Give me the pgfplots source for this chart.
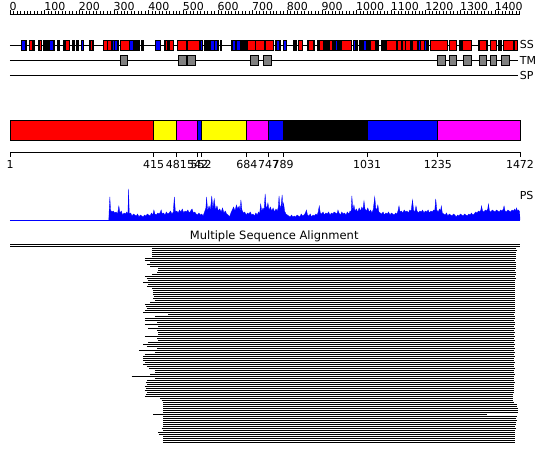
\documentclass[border=0pt]{standalone}
\usepackage{fontspec}
\setmainfont{DejaVu Sans}
\usepackage{pgfplots}
\pgfplotsset{compat=1.18}
\definecolor{cRed}{RGB}{255,0,0}
\definecolor{cBlue}{RGB}{0,0,255}
\definecolor{cYel}{RGB}{255,255,0}
\definecolor{cMag}{RGB}{255,0,255}
\definecolor{cGray}{RGB}{128,128,128}
\pgfkeys{/pgf/number format/1000 sep={}, /pgf/number format/assume math mode=true}
\newcommand{\lab}{\fontsize{11}{13}\selectfont}
\newcommand{\dombox}[3]{\addplot[draw=black, line width=0.8pt, fill=#1] coordinates {(#2,-140)(#3,-140)(#3,-120)(#2,-120)} --cycle;}
\newcommand{\ssbox}[3]{\addplot[draw=black, line width=0.8pt, fill=#1] coordinates {(#2,-50.5)(#3,-50.5)(#3,-40.5)(#2,-40.5)} --cycle;}
\newcommand{\ssstripe}[3]{\addplot[draw=none, fill=#1] coordinates {(#2,-50.1)(#3,-50.1)(#3,-40.9)(#2,-40.9)} --cycle;}
\newcommand{\tmbox}[2]{\addplot[draw=black, line width=0.8pt, fill=cGray] coordinates {(#1,-65)(#2,-65)(#2,-55.5)(#1,-55.5)} --cycle;}
\begin{document}
\begin{tikzpicture}
% ---------------- ruler
\begin{axis}[at={(10pt,-14pt)}, anchor=north west, scale only axis, width=510pt, height=1pt,
  xmin=0, xmax=1472, ymin=0, ymax=1, axis x line=top, axis y line=none,
  axis line style={-, line width=0.8pt},
  xtick={0,100,...,1400}, minor xtick={0,10,...,1470},
  tick align=outside, major tick length=3.5pt, minor tick length=3pt,
  tick style={black, line width=0.6pt},
  tick label style={font=\lab},
  xticklabel style={anchor=south west, inner sep=0pt, xshift=-0.5pt},
  clip=false]
\addplot[draw=none] coordinates {(0,0)(1472,1)};
\end{axis}
% ---------------- SS / TM / SP tracks
\begin{axis}[at={(10pt,-80pt)}, anchor=south west, scale only axis, width=510pt, height=44pt,
  xmin=1, xmax=1472, ymin=-80, ymax=-36, hide axis, clip=false]
\addplot[black, line width=0.8pt] coordinates {(1,-45)(1466,-45)};
\addplot[black, line width=0.8pt] coordinates {(1,-60)(1466,-60)};
\addplot[black, line width=0.8pt] coordinates {(1,-75)(1466,-75)};
% black segments
\ssbox{black}{33}{47}\ssbox{black}{56}{70}\ssbox{black}{84}{92}\ssbox{black}{98}{108}
\ssbox{black}{113}{128}\ssbox{black}{139}{144}\ssbox{black}{154}{173}\ssbox{black}{180}{186}
\ssbox{black}{192}{198}\ssbox{black}{206}{214}\ssbox{black}{229}{242}\ssbox{black}{269}{315}
\ssbox{black}{344}{366}\ssbox{black}{369}{375}\ssbox{black}{381}{387}\ssbox{black}{447}{457}
\ssbox{black}{547}{557}\ssbox{black}{563}{569}\ssbox{black}{573}{603}\ssbox{black}{607}{612}
\ssbox{black}{639}{684}\ssbox{black}{766}{782}\ssbox{black}{818}{826}\ssbox{black}{859}{878}
\ssbox{black}{889}{907}\ssbox{black}{910}{918}\ssbox{black}{920}{932}\ssbox{black}{935}{949}
\ssbox{black}{951}{957}\ssbox{black}{997}{1004}\ssbox{black}{1010}{1015}\ssbox{black}{1017}{1034}
\ssbox{black}{1038}{1065}\ssbox{black}{1073}{1085}\ssbox{black}{1115}{1160}\ssbox{black}{1177}{1207}
\ssbox{black}{1296}{1302}\ssbox{black}{1352}{1377}\ssbox{black}{1411}{1419}\ssbox{black}{1454}{1465}
% red segments
\ssbox{cRed}{319}{344}\ssbox{cRed}{462}{473}\ssbox{cRed}{485}{509}\ssbox{cRed}{514}{547}
\ssbox{cRed}{687}{710}\ssbox{cRed}{710}{736}\ssbox{cRed}{739}{760}\ssbox{cRed}{833}{844}
\ssbox{cRed}{957}{985}\ssbox{cRed}{1086}{1115}\ssbox{cRed}{1163}{1177}\ssbox{cRed}{1215}{1263}
\ssbox{cRed}{1269}{1288}\ssbox{cRed}{1306}{1333}\ssbox{cRed}{1386}{1405}\ssbox{cRed}{1425}{1454}
% blue segments
\ssbox{cBlue}{421}{436}\ssbox{cBlue}{789}{799}\ssbox{cBlue}{991}{997}
% stripes inside black segments
\ssstripe{cBlue}{36}{44}\ssstripe{cBlue}{117}{125}\ssstripe{cBlue}{208}{212}\ssstripe{cBlue}{297}{301}
\ssstripe{cBlue}{305}{309}\ssstripe{cBlue}{348}{355}\ssstripe{cBlue}{551}{554}\ssstripe{cBlue}{580}{588}
\ssstripe{cBlue}{592}{599}\ssstripe{cBlue}{645}{651}\ssstripe{cBlue}{657}{663}\ssstripe{cBlue}{772}{778}
\ssstripe{cBlue}{940}{945}\ssstripe{cBlue}{1021}{1027}\ssstripe{cBlue}{1181}{1185}\ssstripe{cBlue}{1197}{1200}
\ssstripe{cRed}{60}{64}\ssstripe{cRed}{87}{91}\ssstripe{cRed}{162}{171}\ssstripe{cRed}{234}{238}
\ssstripe{cRed}{272}{281}\ssstripe{cRed}{284}{291}\ssstripe{cRed}{450}{455}\ssstripe{cRed}{863}{875}
\ssstripe{cRed}{895}{903}\ssstripe{cRed}{923}{930}\ssstripe{cRed}{1042}{1054}\ssstripe{cRed}{1120}{1129}
\ssstripe{cRed}{1135}{1140}\ssstripe{cRed}{1144}{1154}\ssstripe{cRed}{1186}{1195}\ssstripe{cRed}{1356}{1373}
\ssstripe{cRed}{1457}{1462}
% TM segments
\tmbox{318}{340}\tmbox{486}{511}\tmbox{514}{535}\tmbox{693}{718}\tmbox{732}{755}
\tmbox{1233}{1258}\tmbox{1269}{1288}\tmbox{1308}{1331}\tmbox{1354}{1376}\tmbox{1388}{1405}\tmbox{1419}{1442}
\node[anchor=west, inner sep=1pt, font=\lab] at (axis cs:1468,-45) {SS};
\node[anchor=west, inner sep=1pt, font=\lab] at (axis cs:1468,-60) {TM};
\node[anchor=west, inner sep=1pt, font=\lab] at (axis cs:1468,-75) {SP};
\end{axis}
% ---------------- domain bar
\begin{axis}[at={(10pt,-152pt)}, anchor=south west, scale only axis, width=510pt, height=34pt,
  xmin=1, xmax=1472, ymin=-152, ymax=-118, axis x line=bottom, axis y line=none,
  axis line style={-, line width=0.8pt},
  xtick={1,415,481,542,552,684,747,789,1031,1235,1472},
  tick align=outside, major tick length=5pt, tick style={black, line width=0.8pt},
  tick label style={font=\lab}, clip=false]
\dombox{cRed}{1}{415}\dombox{cYel}{415}{481}\dombox{cMag}{481}{542}\dombox{cBlue}{542}{552}
\dombox{cYel}{552}{684}\dombox{cMag}{684}{747}\dombox{cBlue}{747}{789}\dombox{black}{789}{1031}
\dombox{cBlue}{1031}{1235}\dombox{cMag}{1235}{1472}
\end{axis}
% ---------------- PS profile
\begin{axis}[at={(10pt,-220pt)}, anchor=south west, scale only axis, width=510pt, height=36pt,
  xmin=1, xmax=1472, ymin=0, ymax=36, hide axis, clip=false]
\addplot[cBlue, line width=0.8pt] coordinates {(1,0)(1472,0)};
\addplot[cBlue, fill=cBlue, line width=0.3pt] coordinates {
(286,0)(287,9)(289,23)(291,10)(295,8)(299,9)(303,7)(307,8)(311,6)(315,14)(318,7)(322,9)(326,5)(330,7)(334,6)(338,8)(341,5)(343,31)(345,6)(349,7)(353,4)(357,6)(361,5)(365,4)(369,6)(373,3)(377,5)(381,4)(385,3)(389,5)(393,4)(397,6)(401,5)(405,4)(409,7)(413,5)(416,10)(419,6)(423,5)(427,7)(431,6)(435,8)(437,10)(440,6)(444,7)(448,5)(452,8)(456,6)(460,7)(464,9)(468,6)(472,8)(475,23)(478,8)(482,9)(486,7)(490,10)(494,8)(498,11)(502,7)(506,9)(510,8)(514,10)(518,7)(522,9)(526,11)(530,7)(534,8)(538,6)(542,5)(546,7)(550,5)(554,6)(558,4)(562,8)(566,12)(568,23)(571,9)(575,14)(579,10)(583,24)(586,11)(590,21)(594,10)(598,14)(602,9)(606,11)(610,8)(614,12)(618,7)(622,9)(626,6)(630,5)(634,3)(638,7)(642,10)(646,13)(650,9)(654,15)(658,11)(662,14)(665,9)(667,20)(670,10)(674,7)(678,8)(682,5)(686,7)(690,6)(694,8)(698,5)(702,6)(706,4)(710,7)(714,5)(718,8)(721,6)(724,16)(727,9)(731,12)(734,10)(737,26)(740,11)(743,14)(745,17)(748,10)(752,13)(756,9)(760,12)(764,8)(768,11)(772,9)(775,13)(777,24)(780,11)(783,15)(786,25)(788,12)(790,17)(793,9)(797,6)(801,5)(805,4)(809,3)(813,5)(817,3)(821,4)(825,3)(829,5)(833,4)(837,3)(841,6)(845,4)(849,5)(853,7)(856,10)(859,5)(863,4)(867,6)(871,3)(875,5)(879,4)(883,6)(887,5)(890,8)(893,14)(896,7)(900,6)(904,8)(908,5)(912,7)(916,6)(920,8)(924,5)(928,7)(932,6)(936,8)(940,7)(944,6)(947,10)(950,7)(954,5)(958,8)(962,6)(966,7)(970,5)(974,8)(978,6)(982,9)(985,8)(987,24)(990,10)(993,15)(996,9)(1000,11)(1004,8)(1008,12)(1012,9)(1016,13)(1019,10)(1022,19)(1025,11)(1029,9)(1033,12)(1037,8)(1041,10)(1045,7)(1049,11)(1053,23)(1056,12)(1059,10)(1062,15)(1065,8)(1069,7)(1073,6)(1077,8)(1081,5)(1085,7)(1089,6)(1093,8)(1097,5)(1101,7)(1105,6)(1109,5)(1113,7)(1117,6)(1120,9)(1123,14)(1126,8)(1130,9)(1134,7)(1138,10)(1142,8)(1146,9)(1150,7)(1154,10)(1158,9)(1162,20)(1165,10)(1169,8)(1172,14)(1175,9)(1179,7)(1183,9)(1187,8)(1191,10)(1195,7)(1199,9)(1203,8)(1207,10)(1211,7)(1215,9)(1219,8)(1223,10)(1226,9)(1229,21)(1232,10)(1236,8)(1240,11)(1243,9)(1245,14)(1248,7)(1252,6)(1256,5)(1260,7)(1264,4)(1268,6)(1272,5)(1276,4)(1280,6)(1284,5)(1288,3)(1292,5)(1296,4)(1300,6)(1304,5)(1308,4)(1312,6)(1316,5)(1320,4)(1324,6)(1328,5)(1332,7)(1336,5)(1340,6)(1344,8)(1348,7)(1352,9)(1356,8)(1359,10)(1361,14)(1364,9)(1368,8)(1372,10)(1376,9)(1379,11)(1381,16)(1384,9)(1388,8)(1392,10)(1396,9)(1400,8)(1404,10)(1408,9)(1412,8)(1416,10)(1420,9)(1424,11)(1426,14)(1429,9)(1433,8)(1437,10)(1441,9)(1445,8)(1449,10)(1453,9)(1457,11)(1460,9)(1462,12)(1465,9)(1468,10)(1471,8)(1472,0)
} \closedcycle;
\node[anchor=west, inner sep=1pt, font=\lab] at (axis cs:1468,24) {PS};
\end{axis}
% ---------------- multiple sequence alignment
\begin{axis}[at={(10pt,-446pt)}, anchor=south west, scale only axis, width=510pt, height=204pt,
  xmin=1, xmax=1472, ymin=-446, ymax=-242, hide axis, clip=false]
\addplot[black, line width=1pt, unbounded coords=jump] coordinates {
(1,-245)(1472,-245)(1,nan)(1,-247)(1472,-247)(1,nan)
(410,-249)(1460,-249)(1,nan)(410,-251)(1462,-251)(1,nan)(411,-253)(1460,-253)(1,nan)
(410,-255)(1461,-255)(1,nan)(412,-257)(1460,-257)(1,nan)(390,-259)(1460,-259)(1,nan)
(390,-261)(1459,-261)(1,nan)(405,-263)(1460,-263)(1,nan)(396,-265)(1461,-265)(1,nan)
(405,-267)(1460,-267)(1,nan)(428,-269)(1460,-269)(1,nan)(428,-271)(1459,-271)(1,nan)
(426,-273)(1460,-273)(1,nan)(410,-275)(1460,-275)(1,nan)(390,-277)(1459,-277)(1,nan)
(396,-279)(1460,-279)(1,nan)(399,-281)(1458,-281)(1,nan)(385,-283)(1459,-283)(1,nan)
(399,-285)(1458,-285)(1,nan)(396,-287)(1459,-287)(1,nan)(410,-289)(1458,-289)(1,nan)
(413,-291)(1458,-291)(1,nan)(414,-293)(1457,-293)(1,nan)(413,-295)(1458,-295)(1,nan)
(415,-297)(1457,-297)(1,nan)(413,-299)(1458,-299)(1,nan)(419,-301)(1457,-301)(1,nan)
(405,-303)(1458,-303)(1,nan)(390,-305)(1457,-305)(1,nan)(393,-307)(1457,-307)(1,nan)
(396,-309)(1458,-309)(1,nan)(390,-311)(1457,-311)(1,nan)(385,-313)(1457,-313)(1,nan)
(457,-315)(1456,-315)(1,nan)(419,-317)(1457,-317)(1,nan)(390,-319)(1457,-319)(1,nan)
(390,-321)(1456,-321)(1,nan)(425,-323)(1457,-323)(1,nan)(390,-325)(1457,-325)(1,nan)
(428,-327)(1456,-327)(1,nan)(399,-329)(1457,-329)(1,nan)(425,-331)(1456,-331)(1,nan)
(428,-333)(1457,-333)(1,nan)(428,-335)(1456,-335)(1,nan)(390,-337)(1457,-337)(1,nan)
(425,-339)(1456,-339)(1,nan)(428,-341)(1457,-341)(1,nan)(399,-343)(1456,-343)(1,nan)
(385,-345)(1457,-345)(1,nan)(396,-347)(1456,-347)(1,nan)(425,-349)(1457,-349)(1,nan)
(373,-351)(1456,-351)(1,nan)(419,-353)(1457,-353)(1,nan)(390,-355)(1456,-355)(1,nan)
(385,-357)(1457,-357)(1,nan)(384,-359)(1456,-359)(1,nan)(384,-361)(1456,-361)(1,nan)
(390,-363)(1457,-363)(1,nan)(385,-365)(1456,-365)(1,nan)(396,-367)(1456,-367)(1,nan)
(403,-369)(1457,-369)(1,nan)(419,-371)(1456,-371)(1,nan)(419,-373)(1456,-373)(1,nan)
(405,-375)(1457,-375)(1,nan)(352,-377)(1456,-377)(1,nan)(419,-379)(1456,-379)(1,nan)
(396,-381)(1456,-381)(1,nan)(393,-383)(1457,-383)(1,nan)(396,-385)(1455,-385)(1,nan)
(390,-387)(1456,-387)(1,nan)(393,-389)(1455,-389)(1,nan)(390,-391)(1454,-391)(1,nan)
(396,-393)(1455,-393)(1,nan)(393,-395)(1453,-395)(1,nan)(390,-397)(1452,-397)(1,nan)
(434,-399)(1452,-399)(1,nan)(438,-401)(1453,-401)(1,nan)(443,-403)(1455,-403)(1,nan)
(443,-405)(1463,-405)(1,nan)(443,-407)(1464,-407)(1,nan)(443,-409)(1466,-409)(1,nan)
(443,-411)(1465,-411)(1,nan)(443,-413)(1466,-413)(1,nan)(414,-415)(1376,-415)(1,nan)
(443,-417)(1463,-417)(1,nan)(443,-419)(1461,-419)(1,nan)(443,-421)(1462,-421)(1,nan)
(443,-423)(1460,-423)(1,nan)(443,-425)(1461,-425)(1,nan)(443,-427)(1459,-427)(1,nan)
(438,-429)(1460,-429)(1,nan)(443,-431)(1459,-431)(1,nan)(428,-433)(1459,-433)(1,nan)
(430,-435)(1458,-435)(1,nan)(443,-437)(1459,-437)(1,nan)(443,-439)(1458,-439)(1,nan)
(443,-441)(1458,-441)(1,nan)(443,-443)(1457,-443)
};
\node[font=\fontsize{11.5}{13}\selectfont] at (axis cs:763,-236) {Multiple Sequence Alignment};
\end{axis}
\pgfresetboundingbox
\useasboundingbox (0,0) rectangle (550pt,-465pt);
\end{tikzpicture}
\end{document}
